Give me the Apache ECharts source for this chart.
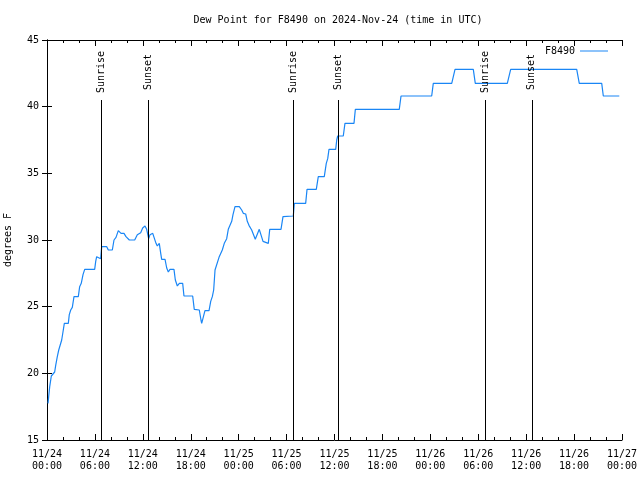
<!DOCTYPE html>
<html><head><meta charset="utf-8">
<script src="https://cdn.jsdelivr.net/npm/echarts@6/dist/echarts.min.js"></script>
<style>html,body{margin:0;padding:0;background:#fff}#c{width:640px;height:480px}</style>
</head><body><div id="c"></div>
<script>
// hours since 2024-11-24 00:00 UTC
const hours = [0.13,0.21,0.34,0.54,0.79,0.96,1.09,1.29,1.47,1.72,
1.84,2.0,2.17,2.67,2.79,2.97,3.17,3.38,3.92,4.09,
4.29,4.51,4.72,5.97,6.10,6.22,6.39,6.72,6.85,7.48,
7.68,8.18,8.39,8.64,8.93,9.27,9.64,9.89,10.31,10.98,
11.31,11.73,11.98,12.27,12.48,12.73,12.90,13.24,13.44,13.65,
13.81,14.06,14.24,14.36,14.78,14.99,15.19,15.40,15.90,16.07,
16.32,16.57,16.99,17.15,18.24,18.44,19.07,19.28,19.37,19.57,
19.78,20.29,20.50,20.70,20.87,21.04,21.29,21.54,21.79,21.95,
22.20,22.50,22.70,22.95,23.13,23.29,23.54,24.08,24.38,24.58,
24.88,25.08,25.29,25.63,25.88,26.08,26.33,26.58,26.80,27.05,
27.13,27.71,27.89,29.30,29.55,30.84,30.97,32.39,32.56,33.72,
33.97,34.72,34.97,35.15,35.31,36.15,36.28,36.40,37.10,37.31,
38.44,38.61,44.11,44.33,48.17,48.37,50.68,51.09,53.38,53.63,
57.64,58.06,66.33,66.65,69.46,69.66,71.66];
const dewPoint = [17.75,18.25,19.0,19.8,19.8,20.1,20.6,21.25,21.75,21.75,
22.5,23.1,23.75,23.75,24.4,24.75,24.95,25.75,25.75,26.5,
26.75,27.4,27.8,27.8,28.4,28.75,28.6,28.6,29.5,29.5,
29.25,29.25,30.0,30.2,30.7,30.5,30.5,30.25,30.0,30.0,
30.4,30.55,30.9,31.05,30.8,30.1,30.4,30.5,30.5,29.75,
29.55,29.75,29.0,28.55,28.55,27.9,27.6,27.8,27.8,27.0,
26.55,26.75,26.75,25.8,25.8,24.8,24.75,24.0,23.75,23.75,
24.7,24.7,25.4,25.75,26.25,27.75,27.9,28.7,28.8,29.25,
29.75,30.1,30.8,30.9,31.4,31.9,32.5,32.5,32.25,32.0,
31.95,31.4,31.1,30.75,30.7,30.05,30.05,30.8,30.8,29.9,
29.75,29.75,30.8,30.8,31.75,31.8,32.75,32.75,33.8,33.8,
34.75,34.75,35.75,36.1,36.8,36.8,37.5,37.8,37.8,38.75,
38.75,39.8,39.8,40.8,40.8,41.75,41.75,42.8,42.8,41.75,
41.75,42.8,42.8,41.75,41.75,40.8,40.8];
const xTickLabels = ['11/24\n00:00','11/24\n06:00','11/24\n12:00','11/24\n18:00',
'11/25\n00:00','11/25\n06:00','11/25\n12:00','11/25\n18:00',
'11/26\n00:00','11/26\n06:00','11/26\n12:00','11/26\n18:00','11/27\n00:00'];
const sunNames = ['Sunrise','Sunset','Sunrise','Sunset','Sunrise','Sunset'];
const sunHours = [6.78,12.65,30.8,36.5,54.9,60.7];
const seriesName = 'F8490';

const FONT = 'DejaVu Sans Mono';
const chart = echarts.init(document.getElementById('c'), null, {renderer:'canvas'});
const axisCommon = {
  axisLine:{show:true,lineStyle:{color:'#000',width:1}},
  splitLine:{show:false}
};
const xBase = Object.assign({}, axisCommon, {
  type:'value', min:0, max:72, interval:6,
  axisTick:{show:true,inside:true,length:6,lineStyle:{color:'#000'}},
  minorTick:{show:true,splitNumber:3,length:3,lineStyle:{color:'#000'}}
});
const yBase = Object.assign({}, axisCommon, {
  type:'value', min:15, max:45, interval:5,
  axisTick:{show:true,inside:true,length:5,lineStyle:{color:'#000'}}
});
chart.setOption({
  animation:false,
  backgroundColor:'#fff',
  title:{text:'Dew Point for F8490 on 2024-Nov-24 (time in UTC)', left:333, top:10, textAlign:'center',
    textStyle:{fontFamily:FONT,fontSize:10,fontWeight:'normal',color:'#000'}},
  legend:{data:[seriesName], right:27, top:41, align:'right', icon:'rect', itemWidth:28, itemHeight:1, itemGap:7,
    textStyle:{fontFamily:FONT,fontSize:10,color:'#000'}},
  grid:{left:47,right:18,top:40,bottom:40,containLabel:false,outerBoundsMode:'none'},
  xAxis:[
    Object.assign({}, xBase, {position:'bottom',
      axisLabel:{show:true,margin:8,fontFamily:FONT,fontSize:10,color:'#000',lineHeight:12,
        formatter:v=>xTickLabels[Math.round(v/6)]}}),
    Object.assign({}, xBase, {position:'top', axisLabel:{show:false}})
  ],
  yAxis:[
    Object.assign({}, yBase, {position:'left', name:'degrees F', nameLocation:'middle', nameGap:34, nameRotate:90,
      nameTextStyle:{fontFamily:FONT,fontSize:10,color:'#000'},
      axisLabel:{show:true,margin:8,fontFamily:FONT,fontSize:10,color:'#000'}}),
    Object.assign({}, yBase, {position:'right', axisLabel:{show:false}})
  ],
  series:[{
    name:seriesName, type:'line', xAxisIndex:0, yAxisIndex:0,
    data:hours.map((h,i)=>[h,dewPoint[i]]),
    symbol:'none', showSymbol:false, smooth:false,
    lineStyle:{color:'#1a86f5',width:1.2}, itemStyle:{color:'#1a86f5'},
    markLine:{silent:true, symbol:['none','none'],
      lineStyle:{color:'#000',width:1,type:'solid'}, label:{show:false},
      data:sunHours.map(h=>[{coord:[h,40.5]},{coord:[h,15]}])},
    markPoint:{silent:true, symbol:'rect', symbolSize:1, itemStyle:{color:'rgba(0,0,0,0)'},
      label:{show:true,position:'inside',rotate:90,fontFamily:FONT,fontSize:10,color:'#000',formatter:'{b}'},
      data:sunHours.map((h,i)=>({name:sunNames[i],coord:[h,42.6]}))}
  }]
});
</script></body></html>
